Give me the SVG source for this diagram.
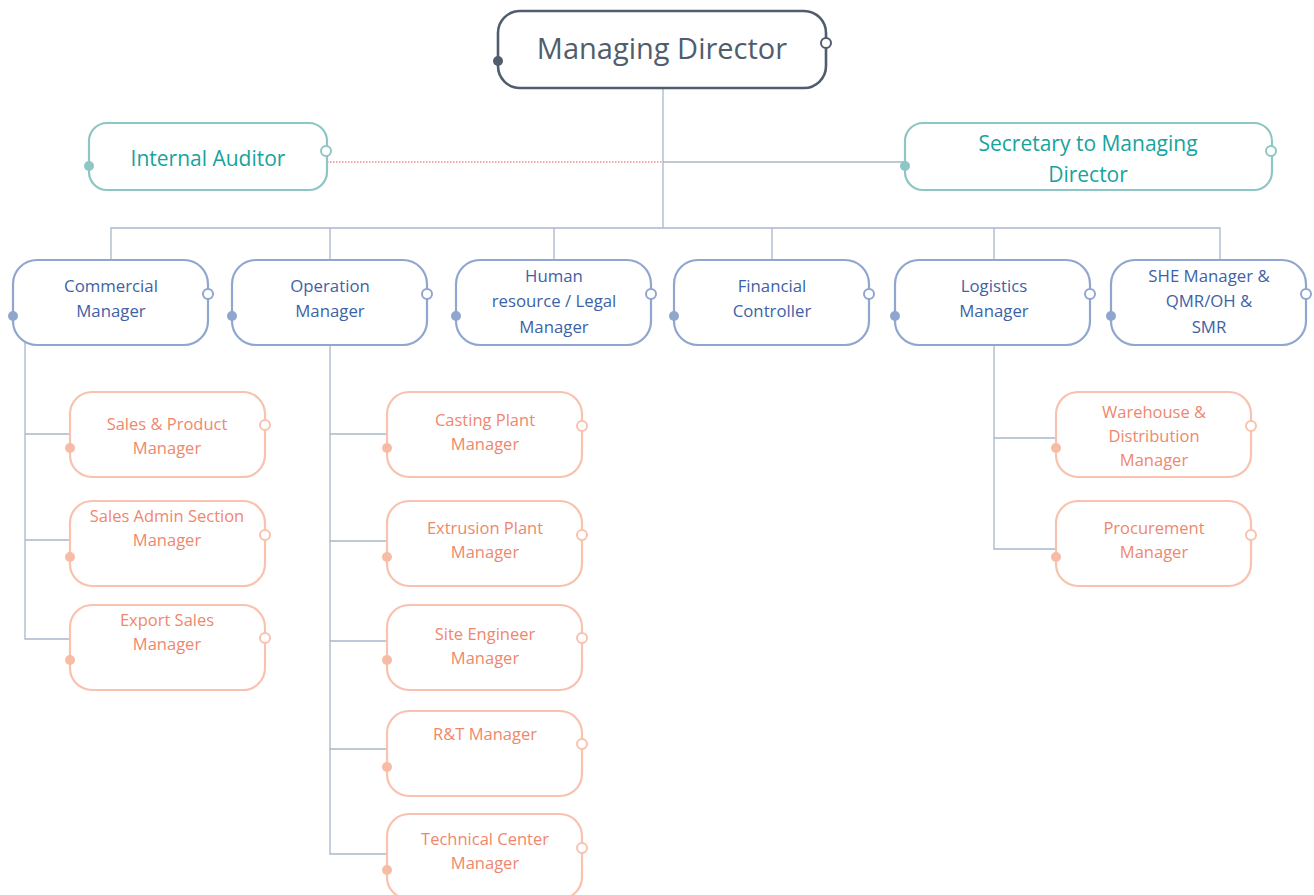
<svg xmlns="http://www.w3.org/2000/svg" width="1314" height="895" viewBox="0 0 1314 895">
  <style>
    text { font-family: "Open Sans", "Liberation Sans", sans-serif; text-anchor: middle; }
    .box { fill: #ffffff; }
    .top { stroke: #4f5d6d; stroke-width: 2.6; }
    .teal { stroke: #8dc6c4; stroke-width: 2.2; }
    .blue { stroke: #8fa6cf; stroke-width: 2.2; }
    .orange { stroke: #f8c2ae; stroke-width: 2.2; }
    .t-top { fill: #4f5d6d; font-size: 29px; }
    .t-teal { fill: #17a39d; font-size: 21px; }
    .t-blue { fill: #3d62a6; font-size: 16.8px; }
    .t-orange { fill: #f0876d; font-size: 16.5px; }
    .line { fill: none; stroke: #a8b7cb; stroke-width: 1.3; }
    .dotted { fill: none; stroke: #e8525c; stroke-width: 1.2; stroke-dasharray: 1.5 1.5; }
    .open { fill: #ffffff; stroke-width: 2; }
  </style>

  <!-- connectors -->
  <g id="connectors">
    <path class="line" d="M663 88 V228"/>
    <path class="line" d="M663 162 H905"/>
    <path class="dotted" d="M327 162 H663"/>
    <path class="line" d="M111 260 V228 H1220 V260"/>
    <path class="line" d="M330 228 V260 M554 228 V260 M772 228 V260 M994 228 V260"/>
    <!-- commercial branch -->
    <path class="line" d="M25 330 V639 H70 M25 434 H70 M25 540 H70"/>
    <!-- operation branch -->
    <path class="line" d="M330 345 V854 H387 M330 434 H387 M330 541 H387 M330 641 H387 M330 749 H387"/>
    <!-- logistics branch -->
    <path class="line" d="M994 345 V549 H1056 M994 438 H1056"/>
  </g>

  <!-- top -->
  <g id="managing-director">
    <rect class="box top" x="498" y="11" width="328" height="77" rx="22"/>
    <circle cx="498" cy="61" r="5" fill="#4f5d6d"/>
    <circle class="open" cx="826" cy="43" r="5" stroke="#4f5d6d"/>
    <text class="t-top" x="662" y="59">Managing Director</text>
  </g>

  <g id="internal-auditor">
    <rect class="box teal" x="89" y="123" width="238" height="67" rx="18"/>
    <circle cx="89" cy="166" r="5" fill="#8dc6c4"/>
    <circle class="open" cx="326" cy="151" r="5" stroke="#8dc6c4"/>
    <text class="t-teal" x="208" y="166">Internal Auditor</text>
  </g>

  <g id="secretary">
    <rect class="box teal" x="905" y="123" width="367" height="67" rx="18"/>
    <circle cx="905" cy="166" r="5" fill="#8dc6c4"/>
    <circle class="open" cx="1271" cy="151" r="5" stroke="#8dc6c4"/>
    <text class="t-teal" x="1088" y="151">Secretary to Managing</text>
    <text class="t-teal" x="1088" y="182">Director</text>
  </g>

  <!-- second level -->
  <g id="commercial-manager">
    <rect class="box blue" x="13" y="260" width="195" height="85" rx="24"/>
    <circle cx="13" cy="316" r="5" fill="#8fa6cf"/>
    <circle class="open" cx="208" cy="294" r="5" stroke="#8fa6cf"/>
    <text class="t-blue" x="111" y="292">Commercial</text>
    <text class="t-blue" x="111" y="317">Manager</text>
  </g>

  <g id="operation-manager">
    <rect class="box blue" x="232" y="260" width="195" height="85" rx="24"/>
    <circle cx="232" cy="316" r="5" fill="#8fa6cf"/>
    <circle class="open" cx="427" cy="294" r="5" stroke="#8fa6cf"/>
    <text class="t-blue" x="330" y="292">Operation</text>
    <text class="t-blue" x="330" y="317">Manager</text>
  </g>

  <g id="hr-legal-manager">
    <rect class="box blue" x="456" y="260" width="195" height="85" rx="24"/>
    <circle cx="456" cy="316" r="5" fill="#8fa6cf"/>
    <circle class="open" cx="651" cy="294" r="5" stroke="#8fa6cf"/>
    <text class="t-blue" x="554" y="282">Human</text>
    <text class="t-blue" x="554" y="307">resource / Legal</text>
    <text class="t-blue" x="554" y="333">Manager</text>
  </g>

  <g id="financial-controller">
    <rect class="box blue" x="674" y="260" width="195" height="85" rx="24"/>
    <circle cx="674" cy="316" r="5" fill="#8fa6cf"/>
    <circle class="open" cx="869" cy="294" r="5" stroke="#8fa6cf"/>
    <text class="t-blue" x="772" y="292">Financial</text>
    <text class="t-blue" x="772" y="317">Controller</text>
  </g>

  <g id="logistics-manager">
    <rect class="box blue" x="895" y="260" width="195" height="85" rx="24"/>
    <circle cx="895" cy="316" r="5" fill="#8fa6cf"/>
    <circle class="open" cx="1090" cy="294" r="5" stroke="#8fa6cf"/>
    <text class="t-blue" x="994" y="292">Logistics</text>
    <text class="t-blue" x="994" y="317">Manager</text>
  </g>

  <g id="she-manager">
    <rect class="box blue" x="1111" y="260" width="195" height="85" rx="24"/>
    <circle cx="1111" cy="316" r="5" fill="#8fa6cf"/>
    <circle class="open" cx="1306" cy="294" r="5" stroke="#8fa6cf"/>
    <text class="t-blue" x="1209" y="282">SHE Manager &amp;</text>
    <text class="t-blue" x="1209" y="307">QMR/OH &amp;</text>
    <text class="t-blue" x="1209" y="333">SMR</text>
  </g>

  <!-- commercial reports -->
  <g id="sales-product-manager">
    <rect class="box orange" x="70" y="392" width="195" height="85" rx="22"/>
    <circle cx="70" cy="448" r="5" fill="#f8bba4"/>
    <circle class="open" cx="265" cy="425" r="5" stroke="#f8c2ae"/>
    <text class="t-orange" x="167" y="430">Sales &amp; Product</text>
    <text class="t-orange" x="167" y="454">Manager</text>
  </g>

  <g id="sales-admin-manager">
    <rect class="box orange" x="70" y="501" width="195" height="85" rx="22"/>
    <circle cx="70" cy="557" r="5" fill="#f8bba4"/>
    <circle class="open" cx="265" cy="535" r="5" stroke="#f8c2ae"/>
    <text class="t-orange" x="167" y="522">Sales Admin Section</text>
    <text class="t-orange" x="167" y="546">Manager</text>
  </g>

  <g id="export-sales-manager">
    <rect class="box orange" x="70" y="605" width="195" height="85" rx="22"/>
    <circle cx="70" cy="660" r="5" fill="#f8bba4"/>
    <circle class="open" cx="265" cy="638" r="5" stroke="#f8c2ae"/>
    <text class="t-orange" x="167" y="626">Export Sales</text>
    <text class="t-orange" x="167" y="650">Manager</text>
  </g>

  <!-- operation reports -->
  <g id="casting-plant-manager">
    <rect class="box orange" x="387" y="392" width="195" height="85" rx="22"/>
    <circle cx="387" cy="448" r="5" fill="#f8bba4"/>
    <circle class="open" cx="582" cy="426" r="5" stroke="#f8c2ae"/>
    <text class="t-orange" x="485" y="426">Casting Plant</text>
    <text class="t-orange" x="485" y="450">Manager</text>
  </g>

  <g id="extrusion-plant-manager">
    <rect class="box orange" x="387" y="501" width="195" height="85" rx="22"/>
    <circle cx="387" cy="557" r="5" fill="#f8bba4"/>
    <circle class="open" cx="582" cy="535" r="5" stroke="#f8c2ae"/>
    <text class="t-orange" x="485" y="534">Extrusion Plant</text>
    <text class="t-orange" x="485" y="558">Manager</text>
  </g>

  <g id="site-engineer-manager">
    <rect class="box orange" x="387" y="605" width="195" height="85" rx="22"/>
    <circle cx="387" cy="660" r="5" fill="#f8bba4"/>
    <circle class="open" cx="582" cy="638" r="5" stroke="#f8c2ae"/>
    <text class="t-orange" x="485" y="640">Site Engineer</text>
    <text class="t-orange" x="485" y="664">Manager</text>
  </g>

  <g id="rt-manager">
    <rect class="box orange" x="387" y="711" width="195" height="85" rx="22"/>
    <circle cx="387" cy="767" r="5" fill="#f8bba4"/>
    <circle class="open" cx="582" cy="744" r="5" stroke="#f8c2ae"/>
    <text class="t-orange" x="485" y="740">R&amp;T Manager</text>
  </g>

  <g id="technical-center-manager">
    <rect class="box orange" x="387" y="814" width="195" height="85" rx="22"/>
    <circle cx="387" cy="870" r="5" fill="#f8bba4"/>
    <circle class="open" cx="582" cy="848" r="5" stroke="#f8c2ae"/>
    <text class="t-orange" x="485" y="845">Technical Center</text>
    <text class="t-orange" x="485" y="869">Manager</text>
  </g>

  <!-- logistics reports -->
  <g id="warehouse-manager">
    <rect class="box orange" x="1056" y="392" width="195" height="85" rx="22"/>
    <circle cx="1056" cy="448" r="5" fill="#f8bba4"/>
    <circle class="open" cx="1251" cy="426" r="5" stroke="#f8c2ae"/>
    <text class="t-orange" x="1154" y="418">Warehouse &amp;</text>
    <text class="t-orange" x="1154" y="442">Distribution</text>
    <text class="t-orange" x="1154" y="466">Manager</text>
  </g>

  <g id="procurement-manager">
    <rect class="box orange" x="1056" y="501" width="195" height="85" rx="22"/>
    <circle cx="1056" cy="557" r="5" fill="#f8bba4"/>
    <circle class="open" cx="1251" cy="535" r="5" stroke="#f8c2ae"/>
    <text class="t-orange" x="1154" y="534">Procurement</text>
    <text class="t-orange" x="1154" y="558">Manager</text>
  </g>
</svg>
